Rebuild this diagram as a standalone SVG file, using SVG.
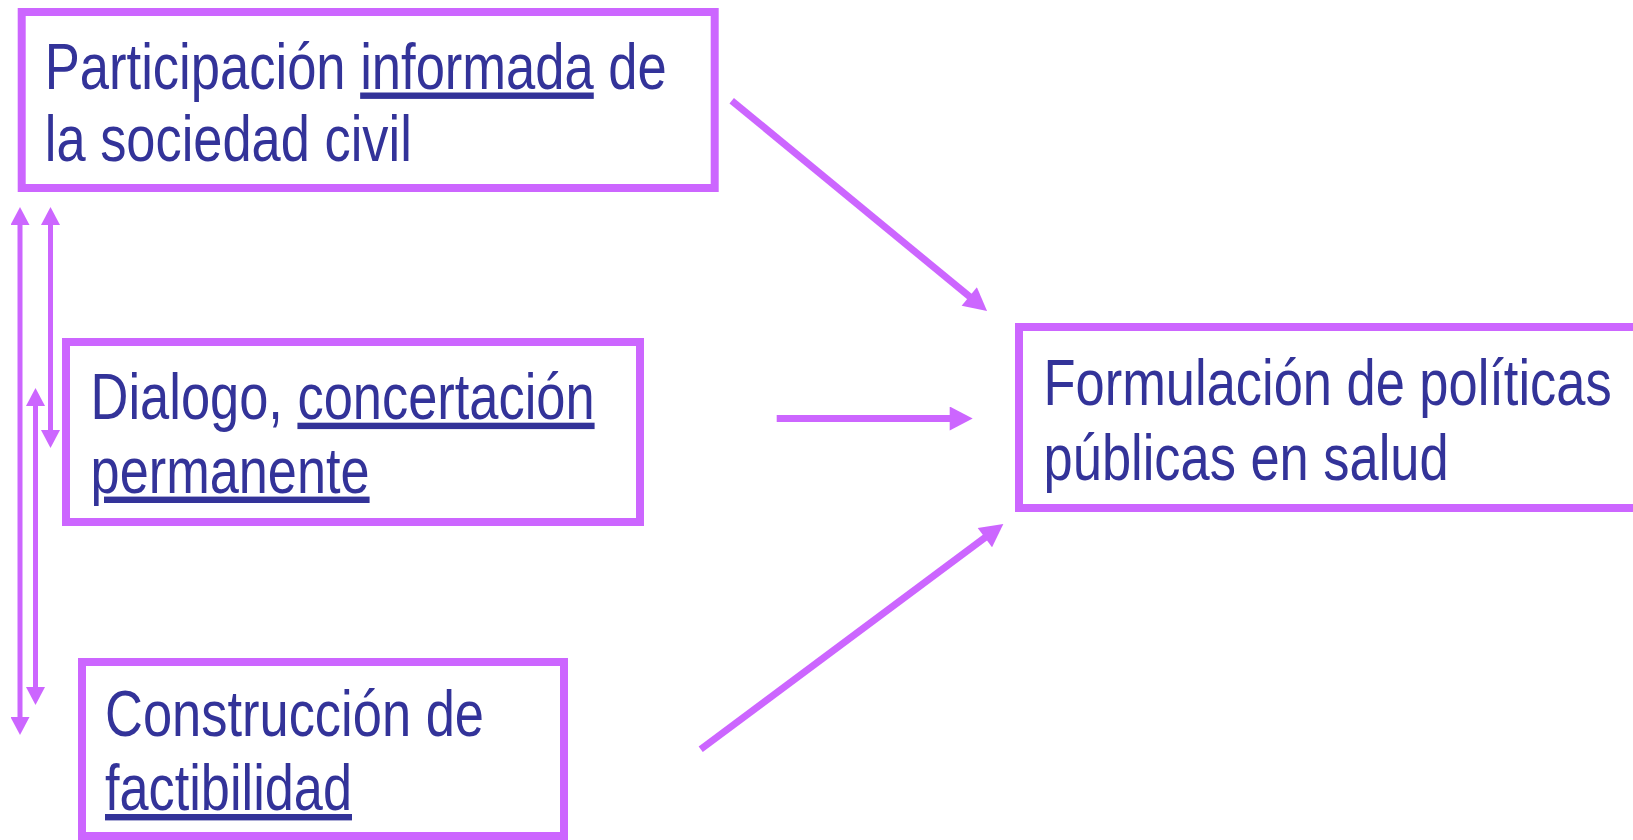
<svg xmlns="http://www.w3.org/2000/svg" width="1633" height="840" viewBox="0 0 1633 840">
<style>
.box{fill:#ffffff;stroke:#CC66FF;stroke-width:8}
.lbl{font-family:"Liberation Sans Narrow","Arial Narrow","Liberation Sans",sans-serif;font-size:64px;fill:#333399}
.u{text-decoration:underline}
.con{stroke:#CC66FF;fill:none}
.big{stroke-width:7;marker-end:url(#ah)}
.small{stroke-width:5;marker-start:url(#as);marker-end:url(#as)}
</style>
<defs>
<marker id="ah" markerUnits="userSpaceOnUse" markerWidth="24" markerHeight="24" viewBox="0 0 23 24" refX="3" refY="12" orient="auto">
<path d="M0,0 L23,12 L0,24 z" fill="#CC66FF"/>
</marker>
<marker id="as" markerUnits="userSpaceOnUse" markerWidth="19" markerHeight="19" viewBox="0 0 18 19" refX="3" refY="9.5" orient="auto-start-reverse">
<path d="M0,0 L18,9.5 L0,19 z" fill="#CC66FF"/>
</marker>
</defs>
<rect width="1633" height="840" fill="#ffffff"/>
<g id="node-participacion">
<rect class="box" x="21.7" y="12" width="693" height="176"/>
<text class="lbl" x="44.8" y="88.5" textLength="622" lengthAdjust="spacingAndGlyphs">Participación <tspan class="u">informada</tspan> de</text>
<text class="lbl" x="44.8" y="161" textLength="367" lengthAdjust="spacingAndGlyphs">la sociedad civil</text>
</g>
<g id="node-dialogo">
<rect class="box" x="66" y="342" width="574" height="180"/>
<text class="lbl" x="90.6" y="418.7" textLength="504" lengthAdjust="spacingAndGlyphs">Dialogo, <tspan class="u">concertación</tspan></text>
<text class="lbl" x="90.6" y="492.6" textLength="279" lengthAdjust="spacingAndGlyphs"><tspan class="u">permanente</tspan></text>
</g>
<g id="node-construccion">
<rect class="box" x="82" y="662" width="482" height="174"/>
<text class="lbl" x="105" y="736" textLength="379" lengthAdjust="spacingAndGlyphs">Construcción de</text>
<text class="lbl" x="105" y="810" textLength="247" lengthAdjust="spacingAndGlyphs"><tspan class="u">factibilidad</tspan></text>
</g>
<g id="node-formulacion">
<rect class="box" x="1019" y="327" width="640" height="181"/>
<text class="lbl" x="1043.6" y="404.5" textLength="568" lengthAdjust="spacingAndGlyphs">Formulación de políticas</text>
<text class="lbl" x="1043.6" y="479.5" textLength="405" lengthAdjust="spacingAndGlyphs">públicas en salud</text>
</g>
<g id="connectors">
<line class="con big" x1="731.7" y1="100.7" x2="971.6" y2="298.3"/>
<line class="con big" x1="776.7" y1="418.5" x2="952.7" y2="418.5"/>
<line class="con big" x1="700.7" y1="749.3" x2="987.3" y2="535.9"/>
<line class="con small" x1="20" y1="222" x2="20" y2="720"/>
<line class="con small" x1="50.5" y1="222" x2="50.5" y2="433"/>
<line class="con small" x1="35.5" y1="403" x2="35.5" y2="690"/>
</g>
</svg>
